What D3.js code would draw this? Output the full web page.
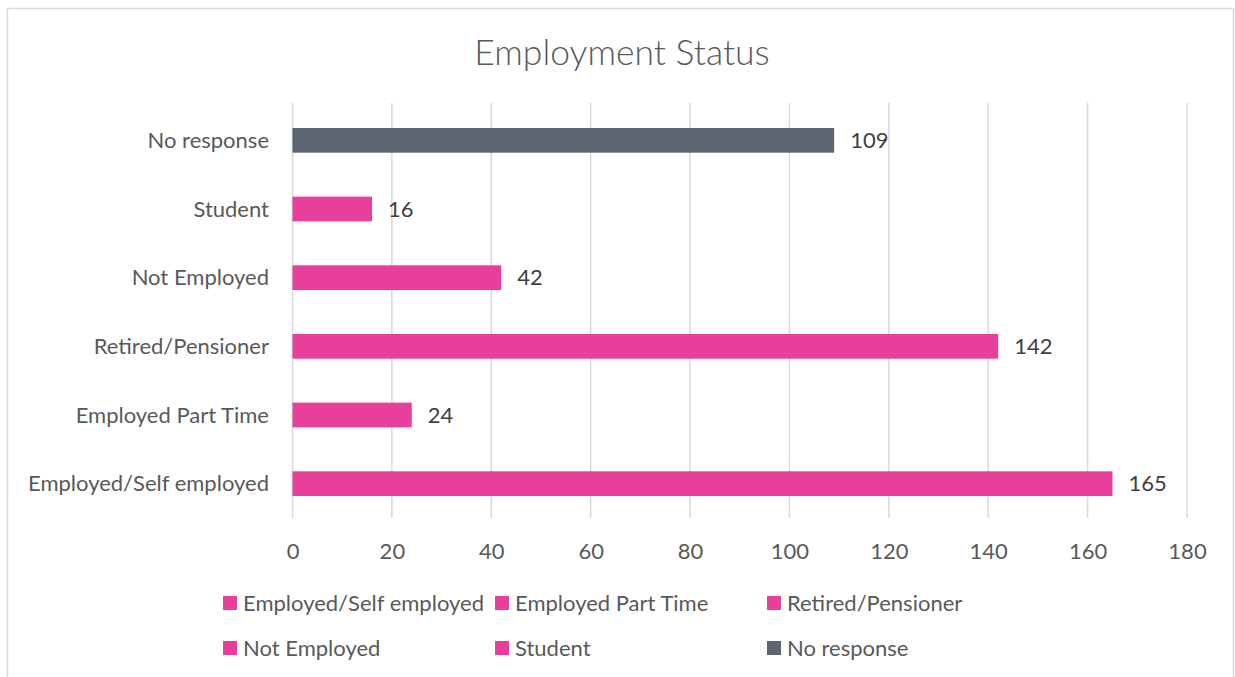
<!DOCTYPE html>
<html><head><meta charset="utf-8">
<script src="https://cdn.jsdelivr.net/npm/d3@7"></script>
<style>body{margin:0;background:#fff}svg{display:block}text{font-family:Lato,"Open Sans",sans-serif}</style>
</head><body><svg id="c" width="1235" height="677"></svg>
<script>
const categories = ["Employed/Self employed","Employed Part Time","Retired/Pensioner","Not Employed","Student","No response"];
const values = [165,24,142,42,16,109];
const colors = ["#E8409A","#E8409A","#E8409A","#E8409A","#E8409A","#5B6670"];
const xTicks = [0,20,40,60,80,100,120,140,160,180];
const title = "Employment Status";

const svg = d3.select("#c");
svg.append("rect").attr("x",7.5).attr("y",8.5).attr("width",1226).attr("height",700)
  .attr("fill","#fff").attr("stroke","#d9d9d9").attr("stroke-width",1.5);

const x = d3.scaleLinear().domain([0,180]).range([292.5,1187]);
const y = d3.scaleBand().domain(categories.slice().reverse()).range([106,518]).paddingInner(0.64).paddingOuter(0.32);

svg.append("text").attr("x",622).attr("y",65).attr("text-anchor","middle")
  .attr("font-size",35.5).attr("font-weight",300).attr("fill","#595959").text(title);

const g = svg.append("g");
g.selectAll("line.grid").data(xTicks).join("line").attr("class","grid")
  .attr("x1",d=>x(d)).attr("x2",d=>x(d)).attr("y1",103).attr("y2",518)
  .attr("stroke","#d9d9d9").attr("stroke-width",1.5);

const xAxis = d3.axisBottom(x).tickValues(xTicks).tickSize(0).tickPadding(0);
const ax = svg.append("g").attr("transform","translate(0,559)").call(xAxis);
ax.select(".domain").remove();
ax.selectAll("text").attr("font-size",22).attr("fill","#595959").attr("dy",0).style("font-family","Lato,'Open Sans',sans-serif");

const yAxis = d3.axisLeft(y).tickSize(0).tickPadding(0);
const ay = svg.append("g").attr("transform","translate(269,0)").call(yAxis);
ay.select(".domain").remove();
ay.selectAll("text").attr("font-size",22).attr("fill","#595959").attr("dy","0.35em").style("font-family","Lato,'Open Sans',sans-serif");

g.selectAll("rect.bar").data(categories).join("rect").attr("class","bar")
  .attr("x",x(0)).attr("y",d=>y(d)).attr("height",y.bandwidth())
  .attr("width",(d,i)=>x(values[i])-x(0)).attr("fill",(d,i)=>colors[i]);

g.selectAll("text.lbl").data(categories).join("text").attr("class","lbl")
  .attr("x",(d,i)=>x(values[i])+16).attr("y",d=>y(d)+y.bandwidth()/2).attr("dy","0.35em")
  .attr("font-size",22).attr("fill","#404040").text((d,i)=>values[i]);

const legX = [223,495,767], legY = [603,648];
const lg = svg.append("g");
categories.forEach((c,i)=>{
  const lx = legX[i%3], ly = legY[Math.floor(i/3)];
  lg.append("rect").attr("x",lx).attr("y",ly-7).attr("width",14).attr("height",14).attr("fill",colors[i]);
  lg.append("text").attr("x",lx+20).attr("y",ly).attr("dy","0.35em").attr("font-size",22).attr("fill","#595959").text(c);
});
</script></body></html>
